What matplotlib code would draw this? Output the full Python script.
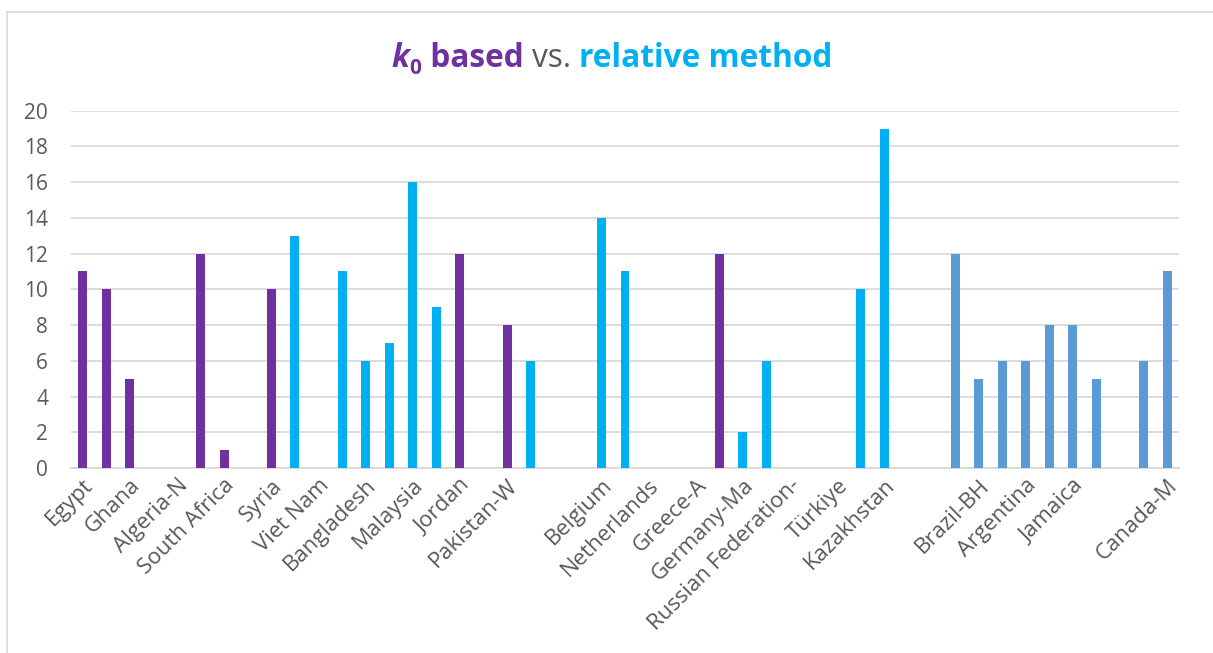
import numpy as np
import matplotlib.pyplot as plt
from matplotlib.lines import Line2D

plt.rcParams['font.family'] = ['Open Sans', 'DejaVu Sans']

# one slot per sample, None where no result was reported
values = [11, 10, 5, None, None, 12, 1, None, 10, 13,
          None, 11, 6, 7, 16, 9, 12, None, 8, 6,
          None, None, 14, 11, None, None, None, 12, 2, 6,
          None, None, None, 10, 19, None, None, 12, 5, 6,
          6, 8, 8, 5, None, 6, 11]
# k = k0 based, r = relative method, a = relative method (Americas)
methods = ['k', 'k', 'k', '', '', 'k', 'k', '', 'k', 'r',
           '', 'r', 'r', 'r', 'r', 'r', 'k', '', 'k', 'r',
           '', '', 'r', 'r', '', '', '', 'k', 'r', 'r',
           '', '', '', 'r', 'r', '', '', 'a', 'a', 'a',
           'a', 'a', 'a', 'a', '', 'a', 'a']
# only every second category gets a label on the axis
tick_labels = ['Egypt', 'Ghana', 'Algeria-N', 'South Africa', 'Syria', 'Viet Nam',
               'Bangladesh', 'Malaysia', 'Jordan', 'Pakistan-W', '', 'Belgium',
               'Netherlands', 'Greece-A', 'Germany-Ma', 'Russian Federation-',
               'Türkiye', 'Kazakhstan', '', 'Brazil-BH', 'Argentina', 'Jamaica',
               '', 'Canada-M']

colors = {'k': '#7030A0', 'r': '#00B0F0', 'a': '#5B9BD5', '': 'none'}
text_grey = '#595959'
grid_grey = '#D9D9D9'

W, H = 1213, 653
fig = plt.figure(figsize=(W / 100, H / 100), dpi=100)
ax = fig.add_axes([71 / W, 1 - 468 / H, (1179 - 71) / W, (468 - 110.7) / H])

x = np.arange(len(values))
heights = [np.nan if v is None else v for v in values]
ax.bar(x, heights, width=0.38, color=[colors[m] for m in methods], zorder=3)

ax.set_xlim(-0.5, len(values) - 0.5)
ax.set_ylim(0, 20)
ax.set_yticks(range(0, 21, 2))
ax.grid(axis='y', color=grid_grey, linewidth=1.3, zorder=0)
for s in ['top', 'right', 'left']:
    ax.spines[s].set_visible(False)
ax.spines['bottom'].set_color(grid_grey)
ax.spines['bottom'].set_linewidth(1.3)
ax.tick_params(axis='both', length=0, colors=text_grey, labelsize=15)
ax.tick_params(axis='y', pad=16.5)

ax.set_xticks(x[::2])
ax.set_xticklabels(tick_labels, rotation=45, ha='right', va='top',
                   rotation_mode='anchor', fontsize=16, color=text_grey)
ax.tick_params(axis='x', pad=5)

# chart frame (left and top edges only show)
fig.add_artist(Line2D([7 / W, 7 / W], [0, 1 - 12 / H], transform=fig.transFigure,
                      color=grid_grey, linewidth=1.2))
fig.add_artist(Line2D([7 / W, 1], [1 - 12 / H, 1 - 12 / H], transform=fig.transFigure,
                      color=grid_grey, linewidth=1.2))

# multi-coloured title, pieces laid out left to right then centred
tsize = 22.8
pieces = [('k', dict(color='#7030A0', weight='bold', style='italic', size=tsize), 0),
          ('0', dict(color='#7030A0', weight='bold', size=15), -7),
          (' based ', dict(color='#7030A0', weight='bold', size=tsize), 0),
          ('vs. ', dict(color=text_grey, size=tsize), 0),
          ('relative method', dict(color='#00B0F0', weight='bold', size=tsize), 0)]
renderer = fig.canvas.get_renderer()
base_y = 1 - 67 / H
texts = []
cursor = 0
for s, kw, dy in pieces:
    t = fig.text(cursor / W, base_y + dy / H, s, va='baseline', ha='left', **kw)
    cursor += t.get_window_extent(renderer).width
    texts.append(t)
shift = 612 - cursor / 2
for t in texts:
    px, py = t.get_position()
    t.set_x(px + shift / W)

fig.savefig('out.png', dpi=100)
